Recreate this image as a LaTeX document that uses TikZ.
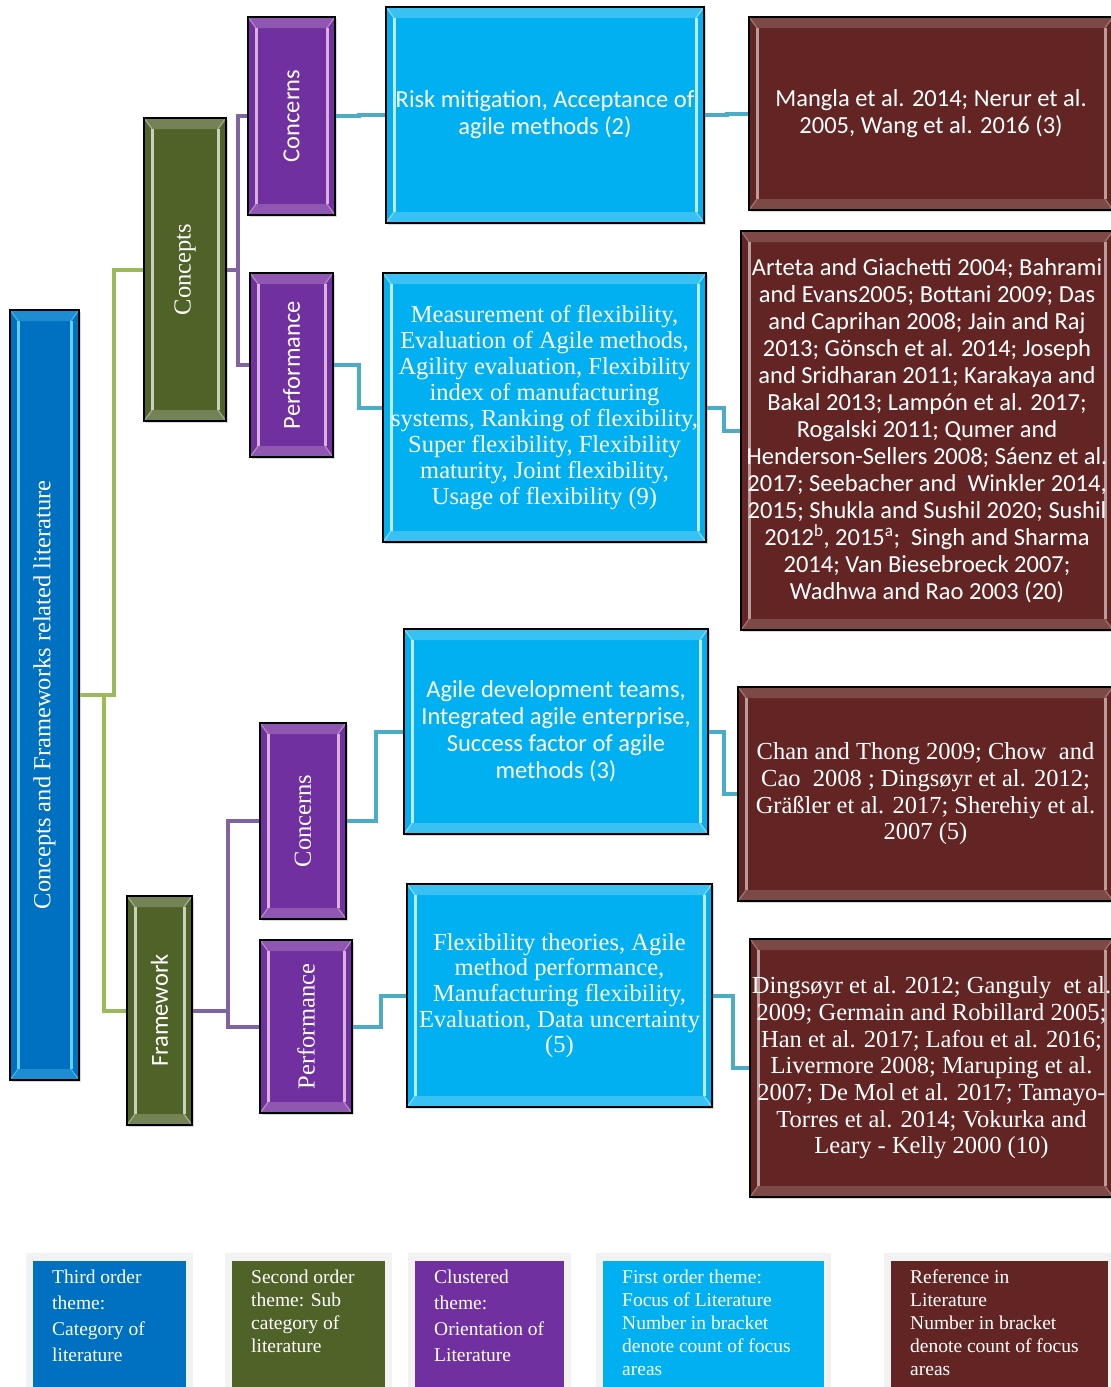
\documentclass[tikz,border=0pt]{standalone}
\usepackage{fontspec}
\setmainfont{Liberation Serif}
\newfontfamily\calib{Carlito}
\usepackage{graphicx}
\usetikzlibrary{shadows}
\definecolor{thirdblue}{RGB}{0,112,192}
\definecolor{secgreen}{RGB}{79,98,40}
\definecolor{clustpurple}{RGB}{112,48,160}
\definecolor{firstcyan}{RGB}{0,176,240}
\definecolor{refmaroon}{RGB}{99,37,35}
\definecolor{linkgreen}{RGB}{155,187,89}
\definecolor{linkpurple}{RGB}{128,100,162}
\definecolor{linkcyan}{RGB}{75,172,198}
\definecolor{legback}{RGB}{242,242,242}

\begin{document}
\begin{tikzpicture}[x=1pt, y=-1pt,
    bevel/.style={path picture={
      \draw[#1, line width=3]
        ([shift={(8pt,-11pt)}]path picture bounding box.north west) -- ([shift={(8pt,11pt)}]path picture bounding box.south west)
        ([shift={(-8pt,-11pt)}]path picture bounding box.north east) -- ([shift={(-8pt,11pt)}]path picture bounding box.south east);
      \draw[#1, line width=1.2, opacity=0.6]
        (path picture bounding box.north west) -- ([shift={(8pt,-11pt)}]path picture bounding box.north west)
        (path picture bounding box.north east) -- ([shift={(-8pt,-11pt)}]path picture bounding box.north east)
        (path picture bounding box.south west) -- ([shift={(8pt,11pt)}]path picture bounding box.south west)
        (path picture bounding box.south east) -- ([shift={(-8pt,11pt)}]path picture bounding box.south east);
      \fill[#1, opacity=0.3]
        (path picture bounding box.north west) -- ([shift={(8pt,-11pt)}]path picture bounding box.north west)
          -- ([shift={(-8pt,-11pt)}]path picture bounding box.north east) -- (path picture bounding box.north east) -- cycle
        (path picture bounding box.south west) -- ([shift={(8pt,11pt)}]path picture bounding box.south west)
          -- ([shift={(-8pt,11pt)}]path picture bounding box.south east) -- (path picture bounding box.south east) -- cycle;
    }},
    box/.style={draw=black, line width=1.5, text=white, inner sep=0pt, align=center,
      font=\fontsize{24.5}{26}\selectfont,
      drop shadow={shadow xshift=2pt, shadow yshift=-2pt, opacity=0.3}},
    sans/.style={font=\calib\fontsize{24.5}{27}\selectfont},
    third/.style={box, fill=thirdblue, bevel=cyan!60!white},
    second/.style={box, fill=secgreen, bevel=secgreen!30!white},
    cluster/.style={box, fill=clustpurple, bevel=violet!30!white},
    focus/.style={box, fill=firstcyan, bevel=cyan!25!white},
    refer/.style={box, fill=refmaroon, bevel=refmaroon!45!white},
    link/.style={draw=#1, line width=4},
    legbox/.style={anchor=north west, inner sep=0pt},
    legtext/.style={anchor=north west, align=left, inner sep=0pt, text=white},
  ]
  \useasboundingbox (0,0) rectangle (1111,1387);

  \node[third, minimum width=69, minimum height=770] (main) at (44.5,695)
    {\rotatebox{90}{Concepts and Frameworks related literature}};
  \node[second, minimum width=82, minimum height=303] (concepts) at (185,269.5)
    {\rotatebox{90}{Concepts}};
  \node[second, sans, minimum width=65, minimum height=229] (framework) at (159.5,1010.5)
    {\rotatebox{90}{Framework}};

  \node[cluster, sans, minimum width=87, minimum height=198] (concernsA) at (291.5,116)
    {\rotatebox{90}{Concerns}};
  \node[cluster, sans, minimum width=83, minimum height=184] (perfA) at (291.5,365)
    {\rotatebox{90}{Performance}};
  \node[cluster, minimum width=86, minimum height=196] (concernsB) at (303,821)
    {\rotatebox{90}{Concerns}};
  \node[cluster, minimum width=92, minimum height=173] (perfB) at (306,1026.5)
    {\rotatebox{90}{Performance}};

  \node[focus, sans, minimum width=318, minimum height=216] (focusA) at (545,115)
    {Risk mitigation, Acceptance of\\agile methods (2)};
  \node[focus, minimum width=323, minimum height=269] (focusB) at (544.5,407.5)
    {Measurement of flexibility,\\Evaluation of Agile methods,\\Agility evaluation, Flexibility\\index of manufacturing\\systems, Ranking of flexibility,\\Super flexibility, Flexibility\\maturity, Joint flexibility,\\Usage of flexibility (9)};
  \node[focus, sans, minimum width=304, minimum height=205] (focusC) at (556,731.5)
    {Agile development teams,\\Integrated agile enterprise,\\Success factor of agile\\methods (3)};
  \node[focus, font=\fontsize{24.5}{25.7}\selectfont, minimum width=305, minimum height=223] (focusD) at (559.5,995.5)
    {Flexibility theories, Agile\\method performance,\\Manufacturing flexibility,\\Evaluation, Data uncertainty\\(5)};

  \node[refer, sans, minimum width=364, minimum height=193] (refA) at (931,113.5)
    {Mangla et al. 2014; Nerur et al.\\2005, Wang et al. 2016 (3)};
  \node[refer, sans, minimum width=372, minimum height=399] (refB) at (927,430.5)
    {Arteta and Giachetti 2004; Bahrami\\and Evans2005; Bottani 2009; Das\\and Caprihan 2008; Jain and Raj\\2013; Gönsch et al. 2014; Joseph\\and Sridharan 2011; Karakaya and\\Bakal 2013; Lampón et al. 2017;\\Rogalski 2011; Qumer and\\Henderson-Sellers 2008; Sáenz et al.\\2017; Seebacher and\ \ Winkler 2014,\\2015; Shukla and Sushil 2020; Sushil\\2012\textsuperscript{b}, 2015\textsuperscript{a};\ \ Singh and Sharma\\2014; Van Biesebroeck 2007;\\Wadhwa and Rao 2003 (20)};
  \node[refer, font=\fontsize{24.5}{26.7}\selectfont, minimum width=375, minimum height=214] (refC) at (925.5,794)
    {Chan and Thong 2009; Chow\ \ and\\Cao\ \ 2008 ; Dingsøyr et al. 2012;\\Gräßler et al. 2017; Sherehiy et al.\\2007 (5)};
  \node[refer, font=\fontsize{24.5}{26.7}\selectfont, minimum width=363, minimum height=258] (refD) at (931.5,1068)
    {Dingsøyr et al. 2012; Ganguly\ \ et al.\\2009; Germain and Robillard 2005;\\Han et al. 2017; Lafou et al. 2016;\\Livermore 2008; Maruping et al.\\2007; De Mol et al. 2017; Tamayo-\\Torres et al. 2014; Vokurka and\\Leary - Kelly 2000 (10)};

  \draw[link=linkgreen] (main.east) -- ++(34,0) |- (concepts.west);
  \draw[link=linkgreen] (main.east) -- ++(24,0) |- (framework.west);
  \draw[link=linkpurple] (concepts.east) -- ++(11,0) |- (concernsA.west);
  \draw[link=linkpurple] (concepts.east) -- ++(11,0) |- (perfA.west);
  \draw[link=linkpurple] (framework.east) -- ++(35,0) |- (concernsB.west);
  \draw[link=linkpurple] (framework.east) -- ++(35,0) |- (perfB.west);

  \draw[link=linkcyan] (concernsA.east) -- ++(23,0) |- (focusA.west);
  \draw[link=linkcyan] (perfA.east) -- ++(25,0) |- (focusB.west);
  \draw[link=linkcyan] (concernsB.east) -- ++(29,0) |- (focusC.west);
  \draw[link=linkcyan] (perfB.east) -- ++(28,0) |- (focusD.west);
  \draw[link=linkcyan] (focusA.east) -- ++(22,0) |- (refA.west);
  \draw[link=linkcyan] (focusB.east) -- ++(17,0) |- (refB.west);
  \draw[link=linkcyan] (focusC.east) -- ++(15,0) |- (refC.west);
  \draw[link=linkcyan] (focusD.east) -- ++(20,0) |- (refD.west);

  \foreach \i/\xa/\xb/\col/\gap/\txt in {
      1/33/186/thirdblue/26/{Third order\\theme:\\Category of\\literature},
      2/232/385/secgreen/22.8/{Second order\\theme: Sub\\category of\\literature},
      3/415/564/clustpurple/26/{Clustered\\theme:\\Orientation of\\Literature},
      4/603/824/firstcyan/23/{First order theme:\\Focus of Literature\\Number in bracket\\denote count of focus\\areas},
      5/891/1108/refmaroon/23/{Reference in\\Literature\\Number in bracket\\denote count of focus\\areas}} {
    \fill[legback] (\xa-7,1253) rectangle (\xb+7,1400);
    \node[legbox, fill=\col, minimum width={\xb-\xa}, minimum height=140] (leg\i) at (\xa,1261) {};
    \node[legtext, font=\fontsize{19.5}{\gap}\selectfont] (legtxt\i) at ([xshift=19pt, yshift=-9pt]leg\i.north west) {\txt};
  }
\end{tikzpicture}
\end{document}
